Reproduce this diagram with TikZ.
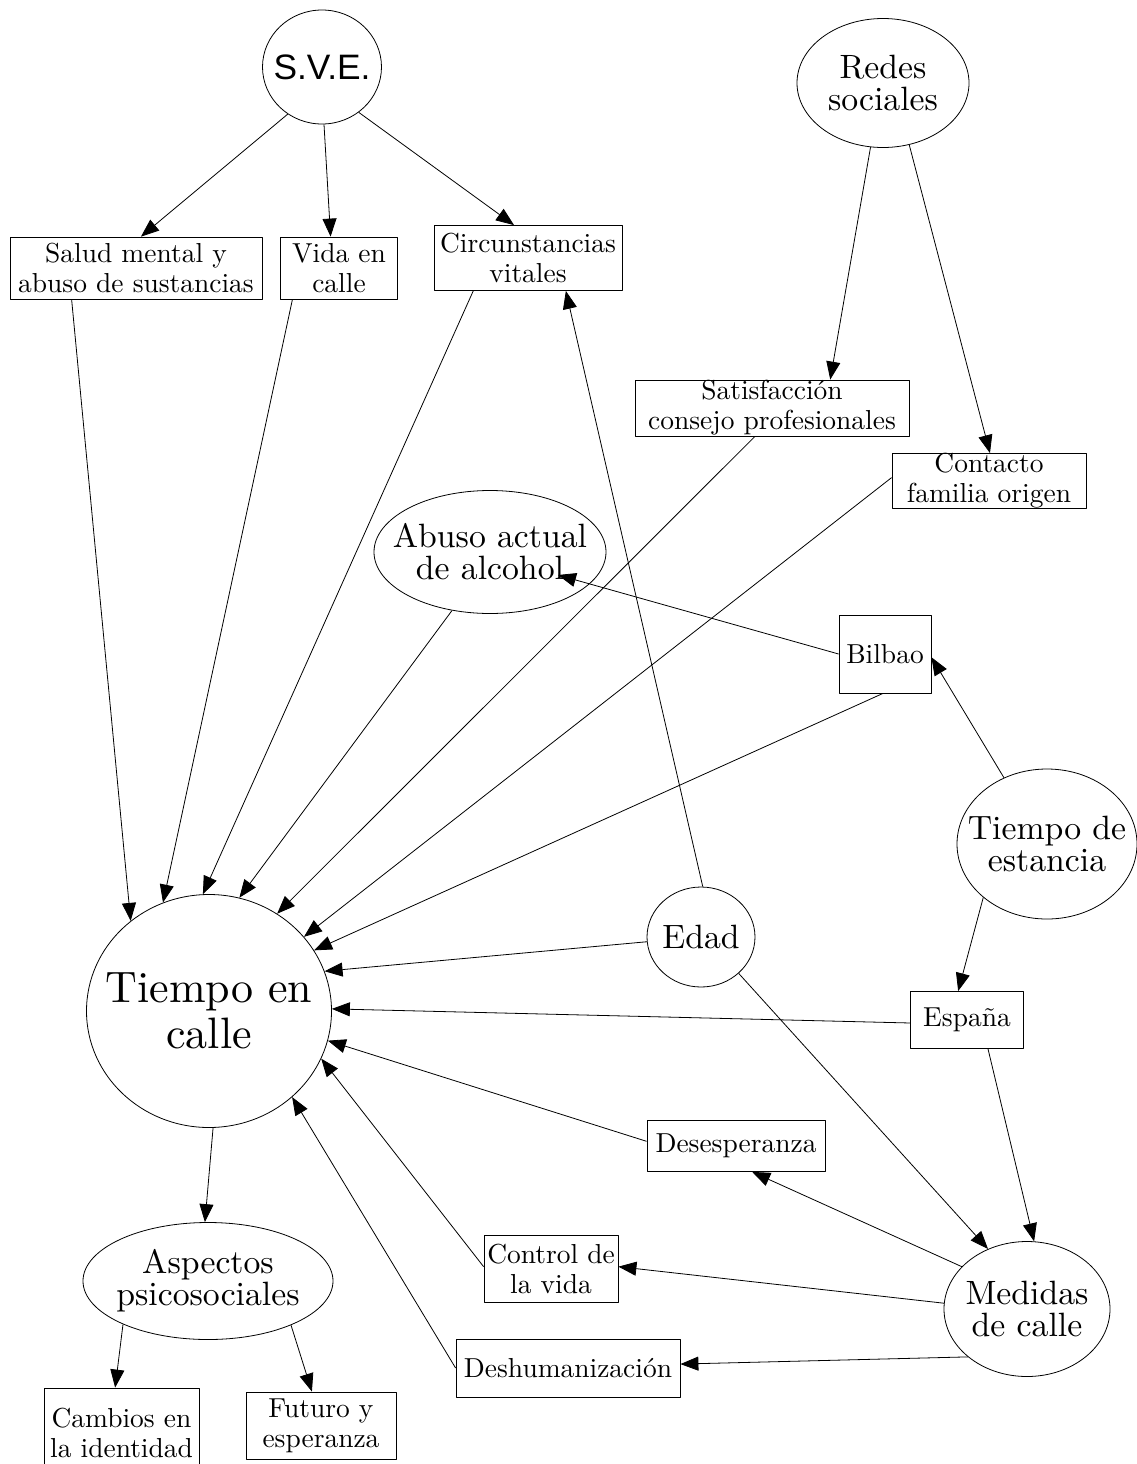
\documentclass[tikz,border=0pt]{standalone}
\usepackage{fontspec}
\usepackage{tikz}
\usetikzlibrary{arrows.meta,shapes.geometric}
\setmainfont{lmroman10-regular}[Extension=.otf]
\newfontfamily\svefont{Liberation Sans}
\newcommand\boxfont{\fontsize{20.6}{22.5}\selectfont}
\newcommand\ovalfont{\fontsize{25.3}{24}\selectfont}
\newcommand\bigfont{\fontsize{33}{34.5}\selectfont}

\begin{document}
\begin{tikzpicture}[
		x=0.75pt,y=-0.75pt,
		>=Triangle,
		line join=round,
		box/.style={draw, rectangle, line width=0.6pt, inner xsep=-10pt, inner ysep=-10pt, align=center, font=\boxfont},
		oval/.style={draw, ellipse, line width=0.6pt, inner xsep=-60pt, inner ysep=-40pt, align=center, font=\ovalfont},
		edge/.style={-{Triangle[length=13.5pt,width=10.5pt]}, line width=0.6pt}
	]
	\useasboundingbox (0,0) rectangle (1137,1464);
	
	% Top sources
	\node[oval, font=\fontsize{26.5}{28}\svefont, minimum width=89.25pt, minimum height=85.5pt] (sve) at (322,67) {S.V.E.};
	\node[oval, minimum width=129pt, minimum height=96.75pt] (redes) at (883,83) {Redes\\sociales};
	
	% Boxes under S.V.E. and Redes sociales
	\node[box, minimum width=189pt, minimum height=46.5pt] (salud) at (136,268) {Salud mental y\\abuso de sustancias};
	\node[box, minimum width=87.75pt, minimum height=46.5pt] (vida) at (339,268) {Vida en\\calle};
	\node[box, minimum width=141pt, minimum height=48.75pt] (circ) at (528,258) {Circunstancias\\vitales};
	\node[box, minimum width=205.5pt, minimum height=42pt] (satisf) at (772,408) {Satisfacción\\consejo profesionales};
	\node[box, minimum width=145.5pt, minimum height=41.25pt] (contacto) at (989,481) {Contacto\\familia origen};
	
	% Middle
	\node[oval, minimum width=174pt, minimum height=92.25pt] (abuso) at (490,552) {Abuso actual\\de alcohol};
	\node[box, minimum width=69pt, minimum height=58.5pt] (bilbao) at (885,654) {Bilbao};
	\node[oval, minimum width=135pt, minimum height=112.5pt] (estancia) at (1047,844) {Tiempo de\\estancia};
	\node[oval, minimum width=81pt, minimum height=75pt] (edad) at (701,937) {Edad};
	\node[box, minimum width=84.75pt, minimum height=42.75pt] (espana) at (967,1020) {España};
	
	% Tiempo en calle
	\node[oval, font=\bigfont, minimum width=183.75pt, minimum height=174.75pt] (tec) at (209,1011) {Tiempo en\\calle};
	
	% Lower right
	\node[box, minimum width=133.5pt, minimum height=38.25pt] (desesp) at (736,1146) {Desesperanza};
	\node[oval, minimum width=124.5pt, minimum height=101.25pt] (medidas) at (1027,1309) {Medidas\\de calle};
	\node[box, minimum width=100.5pt, minimum height=50.25pt] (control) at (551,1269) {Control de\\la vida};
	\node[box, minimum width=168pt, minimum height=43.5pt] (deshum) at (568,1368) {Deshumanización};
	
	% Lower left
	\node[oval, minimum width=187.5pt, minimum height=87.75pt] (aspectos) at (208,1281) {Aspectos\\psicosociales};
	\node[box, minimum width=116.25pt, minimum height=67.5pt] (cambios) at (121.5,1433) {Cambios en\\la identidad};
	\node[box, minimum width=112.5pt, minimum height=50.25pt] (futuro) at (321,1425.5) {Futuro y\\esperanza};
	
	\coordinate (alctip) at ([xshift=51pt,yshift=-17.25pt]abuso.center);
	
	% Edges
	\draw[edge] (sve.234) -- (salud.81);
	\draw[edge] (sve.-88) -- (vida.105);
	\draw[edge] (sve.-51) -- (circ.113);
	\draw[edge] (redes.-101) -- (satisf.26);
	\draw[edge] (redes.-67) -- (contacto.88);
	
	\draw[edge] (salud.206) -- (tec.131);
	\draw[edge] (vida.214) -- (tec.113);
	\draw[edge] (circ.211) -- (tec.93);
	\draw[edge] (abuso.237) -- (tec.75);
	\draw[edge] (satisf.239) -- (tec.55);
	\draw[edge] (contacto.178) -- (tec.38);
	\draw[edge] (bilbao.267) -- (tec.30);
	\draw[edge] (edad.185) -- (tec.19);
	\draw[edge] (espana.183) -- (tec.1);
	\draw[edge] (desesp.177) -- (tec.-14);
	\draw[edge] (control.178) -- (tec.-23);
	\draw[edge] (deshum.west) -- (tec.-46);
	
	\draw[edge] (bilbao.180) -- (alctip);
	\draw[edge] (estancia.123) -- (bilbao.-4);
	\draw[edge] (estancia.220) -- (espana.107);
	\draw[edge] (edad.88) -- (circ.-41);
	\draw[edge] (edad.-44) -- (medidas.123);
	\draw[edge] (espana.-54) -- (medidas.84);
	\draw[edge] (medidas.147) -- (desesp.-58);
	\draw[edge] (medidas.176) -- (control.2);
	\draw[edge] (medidas.219) -- (deshum.2);
	
	\draw[edge] (tec.-88) -- (aspectos.93);
	\draw[edge] (aspectos.207) -- (cambios.98);
	\draw[edge] (aspectos.-28) -- (futuro.105);
	
\end{tikzpicture}
\end{document}
